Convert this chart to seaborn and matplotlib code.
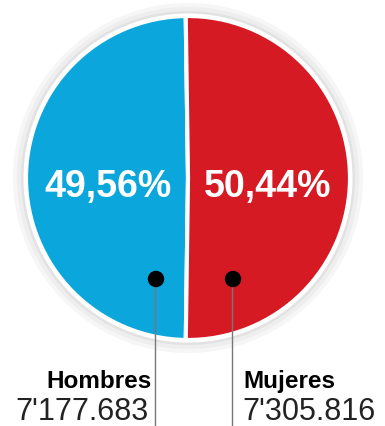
import matplotlib
matplotlib.use("Agg")
import matplotlib.pyplot as plt
import seaborn as sns
from matplotlib.patches import Circle

sns.set_theme(style="white")
plt.rcParams['font.family'] = ['Liberation Sans', 'DejaVu Sans']

categories = ["Hombres", "Mujeres"]
shares = [49.56, 50.44]
pct_labels = ["49,56%", "50,44%"]
counts = ["7'177.683", "7'305.816"]
colors = ["#0aa6dc", "#d51a23"]

W, H = 385, 427
fig = plt.figure(figsize=(W / 100, H / 100), dpi=100)
ax = fig.add_axes([0, 0, 1, 1])

cx, cy, r = 188, H - 179, 162

# soft grey halo
for rr, c in [(175, "#f6f6f6"), (171, "#eeeeee"), (167, "#e2e2e2"), (164.5, "#ffffff")]:
    ax.add_patch(Circle((cx, cy), rr, color=c, zorder=0, lw=0))

ax.pie(shares, colors=colors, startangle=90.8, counterclock=True,
       center=(cx, cy), radius=r,
       wedgeprops=dict(edgecolor="white", linewidth=3), frame=True)

ax.set_xlim(0, W)
ax.set_ylim(0, H)
ax.set_aspect("equal")
ax.axis("off")

# percentages
ax.text(108, H - 197, pct_labels[0], color="white", fontsize=27,
        fontweight="bold", ha="center", va="baseline", zorder=5)
ax.text(268, H - 197, pct_labels[1], color="white", fontsize=27,
        fontweight="bold", ha="center", va="baseline", zorder=5)

# leader lines and dots
for x in (156, 233):
    ax.plot([x - 1, x - 1], [H - 280, 0], color="#777777", lw=1, zorder=4)
    ax.add_patch(Circle((x, H - 280), 7.5, color="black", zorder=6))

# labels
ax.text(152, H - 388, categories[0], fontsize=17.5, fontweight="bold",
        ha="right", va="baseline", color="black")
ax.text(149, H - 420, counts[0], fontsize=22, ha="right", va="baseline",
        color="#222222")
ax.text(243, H - 388, categories[1], fontsize=17.5, fontweight="bold",
        ha="left", va="baseline", color="black")
ax.text(242, H - 420, counts[1], fontsize=22, ha="left", va="baseline",
        color="#222222")

fig.savefig("out.png", dpi=100)
